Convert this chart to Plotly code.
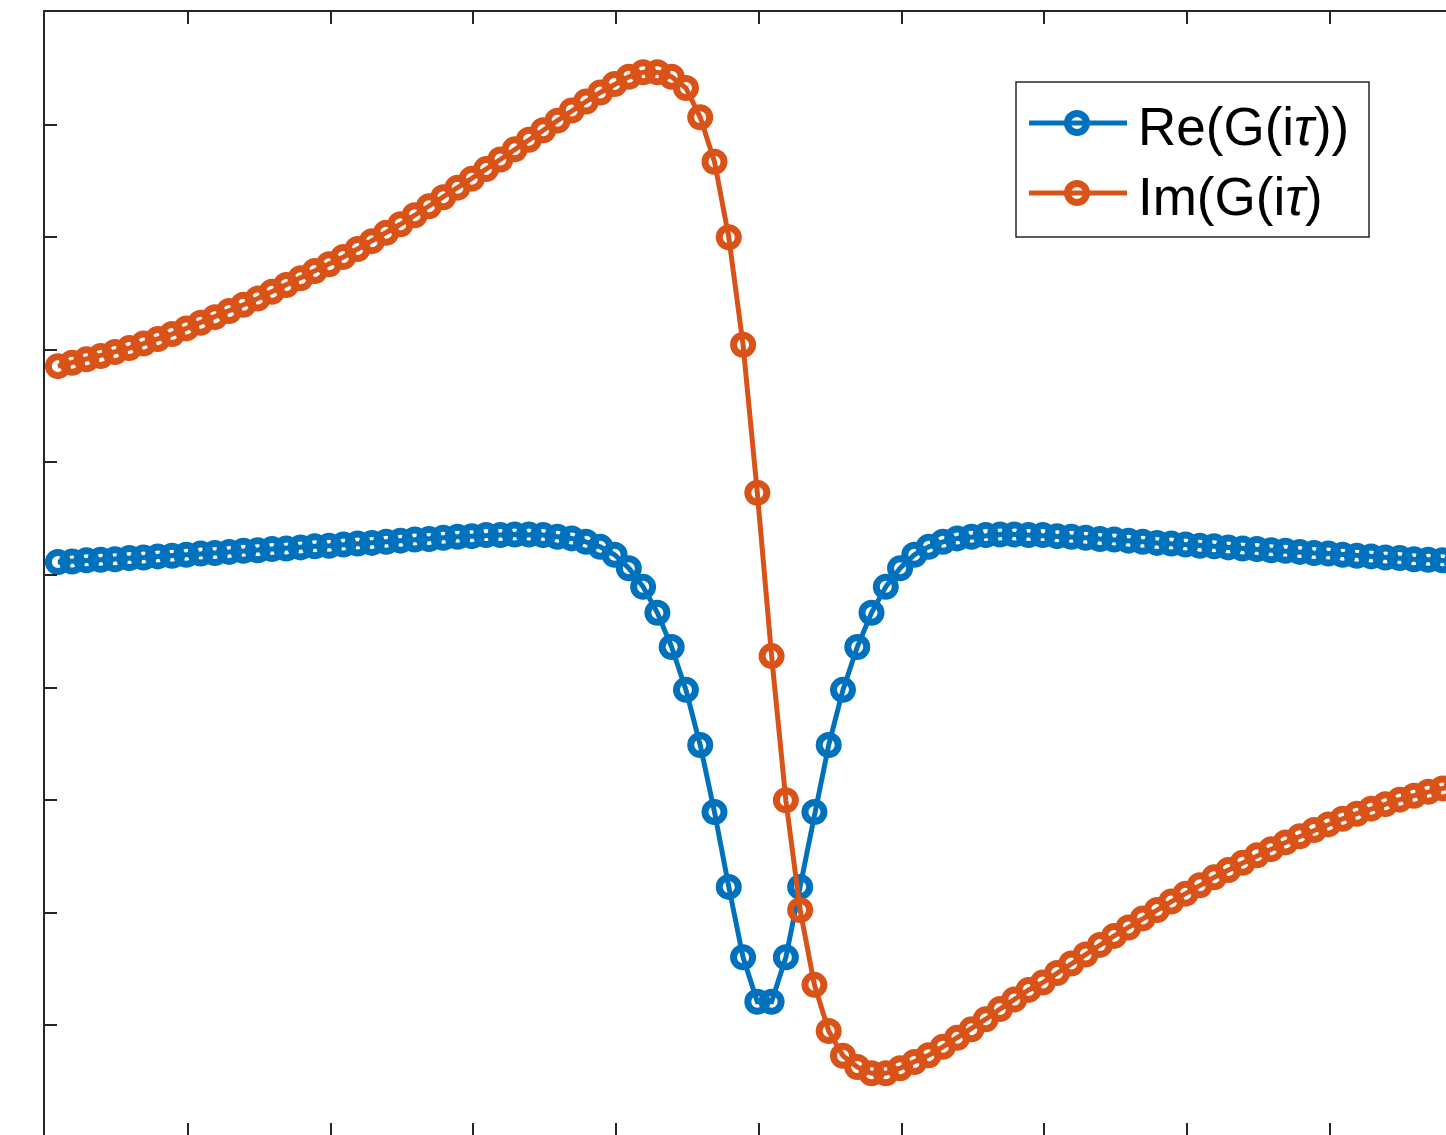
import plotly.graph_objects as go

# Imaginary-time grid (uniform step of 0.1)
tau = [round(-4.91 + 0.1 * k, 2) for k in range(100)]

# Real part of G(i tau)
re_g = [
    0.023, 0.024, 0.026, 0.027, 0.028, 0.030, 0.031, 0.033, 0.034, 0.036,
    0.038, 0.039, 0.041, 0.043, 0.044, 0.046, 0.047, 0.049, 0.051, 0.052,
    0.054, 0.056, 0.057, 0.059, 0.061, 0.063, 0.064, 0.066, 0.068, 0.069,
    0.071, 0.071, 0.072, 0.072, 0.071, 0.068, 0.065, 0.059, 0.050, 0.036,
    0.012, -0.021, -0.067, -0.128, -0.204, -0.302, -0.421, -0.554, -0.679, -0.758,
    -0.758, -0.679, -0.554, -0.421, -0.302, -0.204, -0.128, -0.067, -0.021, 0.012,
    0.036, 0.050, 0.059, 0.065, 0.068, 0.071, 0.072, 0.072, 0.071, 0.071,
    0.069, 0.068, 0.066, 0.064, 0.063, 0.061, 0.059, 0.057, 0.056, 0.054,
    0.052, 0.051, 0.049, 0.047, 0.046, 0.044, 0.043, 0.041, 0.039, 0.038,
    0.036, 0.034, 0.033, 0.031, 0.030, 0.028, 0.027, 0.026, 0.024, 0.023,
]

# Imaginary part of G(i tau)
im_g = [
    0.371, 0.377, 0.383, 0.389, 0.396, 0.403, 0.411, 0.419, 0.428, 0.438,
    0.448, 0.458, 0.469, 0.480, 0.491, 0.503, 0.515, 0.527, 0.540, 0.552,
    0.565, 0.579, 0.593, 0.608, 0.623, 0.639, 0.655, 0.671, 0.688, 0.704,
    0.721, 0.738, 0.756, 0.773, 0.790, 0.807, 0.825, 0.841, 0.857, 0.872,
    0.885, 0.893, 0.893, 0.885, 0.865, 0.813, 0.734, 0.600, 0.409, 0.146,
    -0.144, -0.400, -0.595, -0.728, -0.810, -0.854, -0.874, -0.885, -0.885, -0.876,
    -0.865, -0.853, -0.838, -0.822, -0.807, -0.789, -0.771, -0.754, -0.737, -0.724,
    -0.707, -0.690, -0.674, -0.657, -0.641, -0.626, -0.610, -0.595, -0.580, -0.566,
    -0.551, -0.537, -0.524, -0.511, -0.498, -0.487, -0.475, -0.464, -0.453, -0.443,
    -0.433, -0.424, -0.415, -0.407, -0.399, -0.392, -0.385, -0.379, -0.372, -0.366,
]

series_names = ["Re(G(i<i>τ</i>))", "Im(G(i<i>τ</i>)"]
series_colors = ["#0072BD", "#D95319"]

W, H = 1446, 1135
M_L, M_T = 45, 12
PLOT_W, PLOT_H = W - M_L, H - M_T
X_PX_PER_UNIT = 142.75
Y_PX_PER_UNIT = 563.0
x_range = [-5.0, -5.0 + PLOT_W / X_PX_PER_UNIT]
y_range = [1.0 - PLOT_H / Y_PX_PER_UNIT, 1.0]

AXIS_COLOR = "#262626"
LINE_W = 5
MARKER_SIZE = 19
MARKER_STROKE = 7


def marker_style(color):
    # hollow circle with a heavy outline, the line stays visible inside
    return dict(symbol="circle", size=MARKER_SIZE, color="rgba(0,0,0,0)",
                line=dict(color=color, width=MARKER_STROKE))


fig = go.Figure()
fig.add_trace(go.Scatter(
    x=tau, y=re_g, mode="lines+markers", name=series_names[0],
    line=dict(color=series_colors[0], width=LINE_W),
    marker=marker_style(series_colors[0]),
    showlegend=False,
))
fig.add_trace(go.Scatter(
    x=tau, y=im_g, mode="lines+markers", name=series_names[1],
    xaxis="x2",
    line=dict(color=series_colors[1], width=LINE_W),
    marker=marker_style(series_colors[1]),
    showlegend=False,
))

axis_common = dict(
    showgrid=False, zeroline=False, showticklabels=False,
    ticks="inside", ticklen=12, tickwidth=2, tickcolor=AXIS_COLOR,
)

fig.update_layout(
    width=W, height=H,
    margin=dict(l=M_L, r=0, t=M_T, b=0, pad=0),
    paper_bgcolor="white", plot_bgcolor="white",
    xaxis=dict(range=x_range, side="top", showline=True, linecolor=AXIS_COLOR,
               linewidth=2, dtick=1, tick0=0, **axis_common),
    xaxis2=dict(range=x_range, matches="x", overlaying="x", anchor="y",
                side="bottom", showline=False, dtick=1, tick0=0, **axis_common),
    yaxis=dict(range=y_range, showline=True, linecolor=AXIS_COLOR,
               linewidth=2, dtick=0.2, tick0=0, **axis_common),
    font=dict(family="Liberation Sans, Arial, sans-serif"),
)


# Legend box drawn in pixel offsets from the plot's top-left corner
def px_shape(kind, x0, x1, y0, y1, **kw):
    return dict(type=kind, xref="paper", yref="paper",
                xsizemode="pixel", ysizemode="pixel",
                xanchor=0, yanchor=1,
                x0=x0, x1=x1, y0=-y0, y1=-y1, **kw)


shapes = [px_shape("rect", 971, 1324, 70, 225,
                   line=dict(color=AXIS_COLOR, width=1.5), fillcolor="white",
                   layer="above")]
row_y = [111, 181]
for color, ry in zip(series_colors, row_y):
    shapes.append(px_shape("line", 984, 1082, ry, ry,
                           line=dict(color=color, width=LINE_W), layer="above"))
    r = MARKER_SIZE / 2
    shapes.append(px_shape("circle", 1032 - r, 1032 + r, ry - r, ry + r,
                           line=dict(color=color, width=MARKER_STROKE),
                           layer="above"))
fig.update_layout(shapes=shapes)

for name, ry in zip(series_names, row_y):
    fig.add_annotation(
        xref="paper", yref="paper",
        x=(1136 - M_L) / PLOT_W, y=1 - (ry + 4) / PLOT_H,
        xanchor="left", yanchor="middle", showarrow=False,
        text=name, font=dict(size=53, color="black",
                             family="Liberation Sans, Arial, sans-serif"),
    )

fig.write_html("out.html")
